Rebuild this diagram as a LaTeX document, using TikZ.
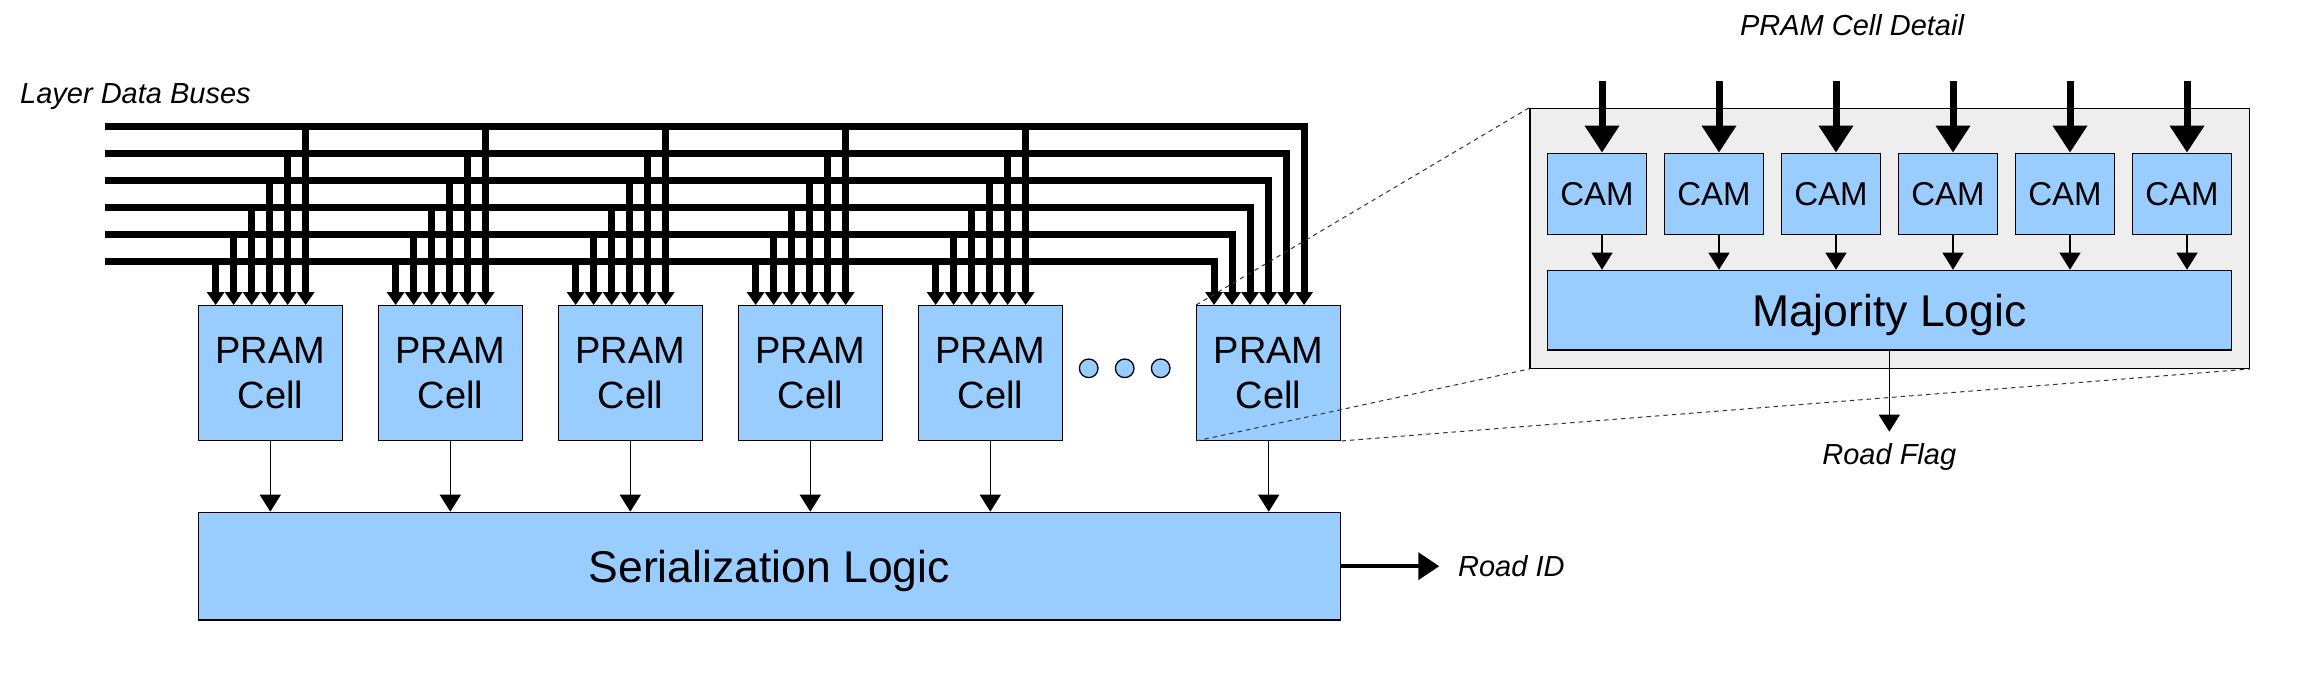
\documentclass[tikz,border=0pt]{standalone}
\usepackage{fontspec}
\setmainfont{Liberation Sans}
\usepackage{tikz}
\usetikzlibrary{arrows.meta, positioning}
\definecolor{cellblue}{HTML}{99CCFF}
\definecolor{detailgray}{HTML}{EEEEEE}
\tikzstyle{cell} = [rectangle, minimum width=144pt, minimum height=134.6pt, inner sep=0pt, align=center, draw=black, line width=1.3pt, fill=cellblue, font=\fontsize{38}{45}\selectfont]
\tikzstyle{cam} = [rectangle, minimum width=99pt, minimum height=81pt, inner sep=0pt, draw=black, line width=1.3pt, fill=cellblue, font=\fontsize{33}{40}\selectfont]
\tikzstyle{logic} = [rectangle, inner sep=0pt, text depth=0pt, draw=black, line width=1.3pt, fill=cellblue, font=\fontsize{44.5}{53}\selectfont]
\tikzstyle{detail} = [rectangle, minimum width=719.3pt, minimum height=260pt, draw=black, line width=1.3pt, fill=detailgray]
\tikzstyle{gapdot} = [circle, minimum size=18.6pt, inner sep=0pt, draw=black, line width=1.3pt, fill=cellblue]
\tikzstyle{tagtext} = [inner sep=0pt, font=\fontsize{29}{35}\selectfont\itshape]
\tikzstyle{arrow} = [line width=1.3pt, -{Triangle[width=21pt,length=17pt]}]
\tikzstyle{bus} = [line width=7pt, -{Triangle[width=17pt,length=13pt]}]
\tikzstyle{feed} = [line width=7pt, -{Triangle[width=33pt,length=27pt]}]
\tikzstyle{idarrow} = [line width=4pt, -{Triangle[width=27pt,length=21pt]}]
\tikzstyle{zoomline} = [dash pattern=on 4.5pt off 4pt, line width=1pt, draw=black!80]

\begin{document}
\begin{tikzpicture}[x=1pt, y=-1pt]
\useasboundingbox (0,0) rectangle (2304,675);
% PRAM cells
\node (p1) [cell] at (270.3,373) {PRAM\\Cell};
\node (p2) [cell, right=34.7pt of p1] {PRAM\\Cell};
\node (p3) [cell, right=34.7pt of p2] {PRAM\\Cell};
\node (p4) [cell, right=34.7pt of p3] {PRAM\\Cell};
\node (p5) [cell, right=34.7pt of p4] {PRAM\\Cell};
\node (p6) [cell, right=133.1pt of p5] {PRAM\\Cell};
\node (d1) [gapdot] at (1088.7,368.3) {};
\node (d2) [gapdot, right=16.1pt of d1] {};
\node (d3) [gapdot, right=16.1pt of d2] {};
\node (ser) [logic, minimum width=1142pt, minimum height=107.7pt] at (769.3,566.2) {Serialization Logic};
\node (rid) [tagtext, right=117pt of ser] {Road ID};
\node (buses) [tagtext, anchor=base west] at (20,103) {Layer Data Buses};

% layer data buses
\foreach \i in {1,...,6}
  \coordinate (b\i) at (105, 288.1-26.9*\i);
\foreach \c in {1,...,6}
  \foreach \i in {1,...,6}
    \coordinate (t\c\i) at ([xshift=18*\i pt]p\c.north west);
\foreach \i in {1,...,6}
  \draw [bus] (b\i) -- (t6\i |- b\i) -- (t6\i);
\foreach \c in {1,...,5}
  \foreach \i in {1,...,6}
    \draw [bus] (t\c\i |- b\i) -- (t\c\i);

\foreach \c in {1,...,6}
  \draw [arrow] (p\c.south) -- (p\c.south |- ser.north);
\draw [idarrow] (ser.east) -- ([xshift=-18.7pt]rid.west);

% cell detail
\node (zoomtitle) [tagtext, anchor=base] at (1852,35) {PRAM Cell Detail};
\node (det) [detail] at (1889.7,238.3) {};
\node (c1) [cam] at (1597,193.8) {CAM};
\node (c2) [cam, right=16.7pt of c1] {CAM};
\node (c3) [cam, right=16.7pt of c2] {CAM};
\node (c4) [cam, right=16.7pt of c3] {CAM};
\node (c5) [cam, right=16.7pt of c4] {CAM};
\node (c6) [cam, right=16.7pt of c5] {CAM};
\node (maj) [logic, minimum width=684pt, minimum height=79.7pt] at (1889.3,310.2) {Majority Logic};
\node (flag) [tagtext, anchor=north, inner ysep=12pt] at (1889.3,431.7) {Road Flag};

\foreach \k in {1,...,6} {
  \draw [feed] ([xshift=5pt,yshift=71.6pt]c\k.north) -- ([xshift=5pt]c\k.north);
  \coordinate (q\k) at ([xshift=5pt]c\k.south);
  \draw [arrow] (q\k) -- (q\k |- maj.north);
}
\draw [arrow] (maj.south) -- (flag.north);

\draw [zoomline] (p6.north west) -- (det.north west);
\draw [zoomline] (p6.south west) -- (det.south west);
\draw [zoomline] (p6.south east) -- (det.south east);
\end{tikzpicture}
\end{document}
